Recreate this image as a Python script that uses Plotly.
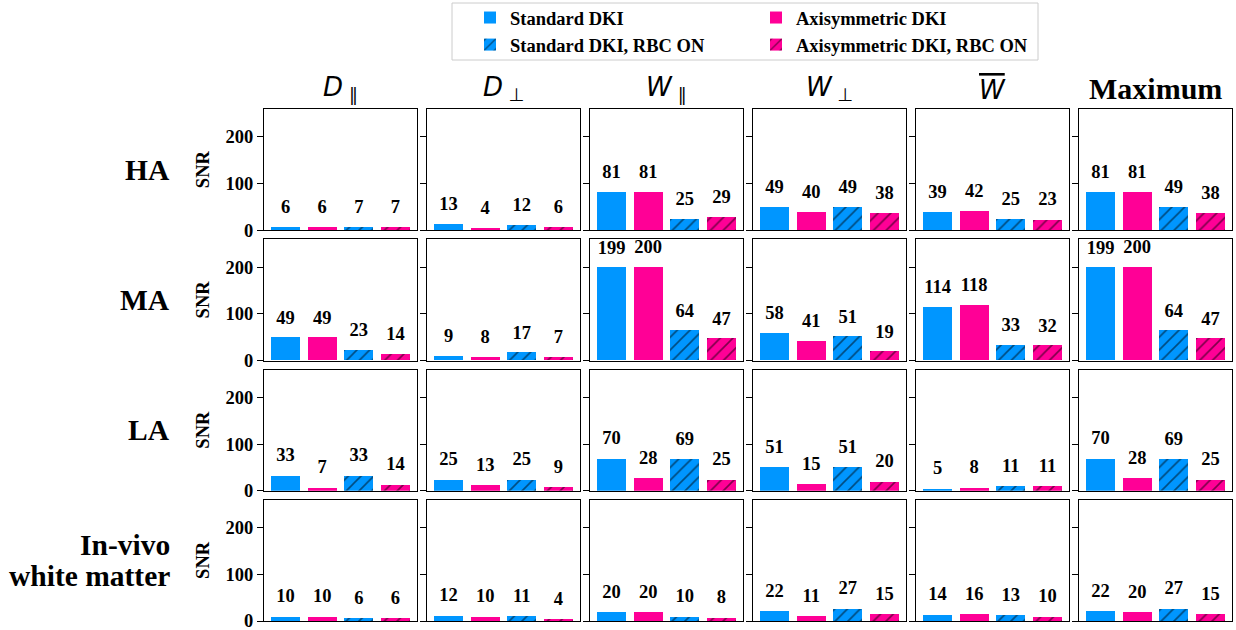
import plotly.graph_objects as go
from plotly.subplots import make_subplots

# ---------------- data ----------------
row_labels = ["HA", "MA", "LA", "In-vivo<br>white matter"]
col_titles = [
    "<i>D</i><sub> ∥</sub>",
    "<i>D</i><sub> ⊥</sub>",
    "<i>W</i><sub> ∥</sub>",
    "<i>W</i><sub> ⊥</sub>",
    "<span style='text-decoration:overline'><i>W</i></span>",
    "<b>Maximum</b>",
]
series_names = ["Standard DKI", "Axisymmetric DKI",
                "Standard DKI, RBC ON", "Axisymmetric DKI, RBC ON"]
bar_pos = [0, 1, 2, 3]

# SNR values: each inner list = [Standard, Axisymmetric, Standard RBC ON, Axisymmetric RBC ON]
snr_ha = [[6, 6, 7, 7], [13, 4, 12, 6], [81, 81, 25, 29],
          [49, 40, 49, 38], [39, 42, 25, 23], [81, 81, 49, 38]]
snr_ma = [[49, 49, 23, 14], [9, 8, 17, 7], [199, 200, 64, 47],
          [58, 41, 51, 19], [114, 118, 33, 32], [199, 200, 64, 47]]
snr_la = [[33, 7, 33, 14], [25, 13, 25, 9], [70, 28, 69, 25],
          [51, 15, 51, 20], [5, 8, 11, 11], [70, 28, 69, 25]]
snr_invivo = [[10, 10, 6, 6], [12, 10, 11, 4], [20, 20, 10, 8],
              [22, 11, 27, 15], [14, 16, 13, 10], [22, 20, 27, 15]]
all_rows = [snr_ha, snr_ma, snr_la, snr_invivo]

BLUE = "#0096FF"
PINK = "#FF0096"
colors = [BLUE, PINK, BLUE, PINK]
hatched = [False, False, True, True]
legend_ids = ["legend", "legend2", "legend", "legend2"]

SERIF = "Liberation Serif"
SMALL = 18.5
LABEL_OFFSET = 40

# ---------------- layout geometry ----------------
W, H = 1236, 630
ML, MR, MT, MB = 264, 4, 109, 9
gw = W - ML - MR
gh = H - MT - MB

fig = make_subplots(rows=4, cols=6,
                    horizontal_spacing=10 / gw,
                    vertical_spacing=9 / gh)

for r, row_vals in enumerate(all_rows):
    for c, vals in enumerate(row_vals):
        for s in range(4):
            marker = dict(color=colors[s], line=dict(width=0))
            if hatched[s]:
                marker["pattern"] = dict(shape="/", fgcolor="black",
                                         bgcolor=colors[s], size=9,
                                         solidity=0.18, fillmode="overlay")
            fig.add_trace(go.Bar(
                x=[bar_pos[s]], y=[vals[s]], width=0.8,
                name=series_names[s], marker=marker,
                legend=legend_ids[s],
                showlegend=(r == 0 and c == 0), hoverinfo="skip",
            ), row=r + 1, col=c + 1)
        fig.add_trace(go.Scatter(
            x=bar_pos, y=[v + LABEL_OFFSET for v in vals],
            text=[str(v) for v in vals], mode="text",
            textfont=dict(family=SERIF, size=SMALL, color="black", weight="bold"),
            textposition="middle center", showlegend=False,
            cliponaxis=False, hoverinfo="skip",
        ), row=r + 1, col=c + 1)

fig.update_xaxes(range=[-0.59, 3.59], showticklabels=False, ticks="",
                 showgrid=False, zeroline=False, showline=True,
                 linecolor="black", linewidth=1.3, mirror=True)
fig.update_yaxes(range=[0, 260], tickvals=[0, 100, 200], ticks="outside",
                 ticklen=6, tickwidth=1.2, tickcolor="black",
                 showgrid=False, zeroline=False, showline=True,
                 linecolor="black", linewidth=1.3, mirror=True,
                 ticklabeloverflow="allow",
                 tickfont=dict(family=SERIF, size=SMALL, color="black", weight="bold"))
for r in range(4):
    for c in range(6):
        if c > 0:
            fig.update_yaxes(showticklabels=False, row=r + 1, col=c + 1)
        else:
            fig.update_yaxes(title=dict(text="SNR", standoff=10,
                                        font=dict(family=SERIF, size=SMALL,
                                                  color="black", weight="bold")),
                             row=r + 1, col=c + 1)

annotations = []
# column titles
col_w = (gw - 5 * 10) / 6
for c, t in enumerate(col_titles):
    xc = (c * (col_w + 10) + col_w / 2) / gw
    is_math = c < 5
    annotations.append(dict(
        text=t, x=xc, y=1 + 2 / gh, xref="paper", yref="paper",
        xanchor="center", yanchor="bottom", showarrow=False,
        font=dict(family="DejaVu Sans" if is_math else SERIF,
                  size=26 if is_math else 30, color="black")))
# row labels (multi-line labels are placed line by line)
row_h = (gh - 3 * 9) / 4
LINE_SP = 31
for r, t in enumerate(row_labels):
    yc = 1 - (r * (row_h + 9) + row_h / 2) / gh
    lines = t.split("<br>")
    n = len(lines)
    for i, ln in enumerate(lines):
        dy = ((n - 1) / 2 - i) * LINE_SP / gh
        annotations.append(dict(
            text=ln, x=(172 - ML) / gw, y=yc + dy,
            xref="paper", yref="paper", xanchor="right", yanchor="middle",
            align="right", showarrow=False,
            font=dict(family=SERIF, size=29.5, color="black", weight="bold")))

legend_font = dict(family=SERIF, size=SMALL, color="black", weight="bold")
fig.update_layout(
    width=W, height=H,
    margin=dict(l=ML, r=MR, t=MT, b=MB, autoexpand=False),
    plot_bgcolor="white", paper_bgcolor="white",
    bargap=0,
    annotations=annotations,
    legend=dict(x=(470 - ML) / gw, y=(H - MB + 1) / gh, xanchor="left",
                yanchor="top", orientation="v", bgcolor="rgba(0,0,0,0)",
                font=legend_font, itemsizing="constant", tracegroupgap=0),
    legend2=dict(x=(756 - ML) / gw, y=(H - MB + 1) / gh, xanchor="left",
                 yanchor="top", orientation="v", bgcolor="rgba(0,0,0,0)",
                 font=legend_font, itemsizing="constant", tracegroupgap=0),
    shapes=[dict(type="rect", xref="paper", yref="paper",
                 x0=(452 - ML) / gw, x1=(1038 - ML) / gw,
                 y0=(H - MB - 60) / gh, y1=(H - MB - 3) / gh,
                 line=dict(color="#cccccc", width=1), fillcolor="rgba(0,0,0,0)",
                 layer="below")],
)

fig.write_html("out.html", config={"displayModeBar": False},
               post_script="document.body.style.margin='0';"
                           "document.body.style.overflow='hidden';")
